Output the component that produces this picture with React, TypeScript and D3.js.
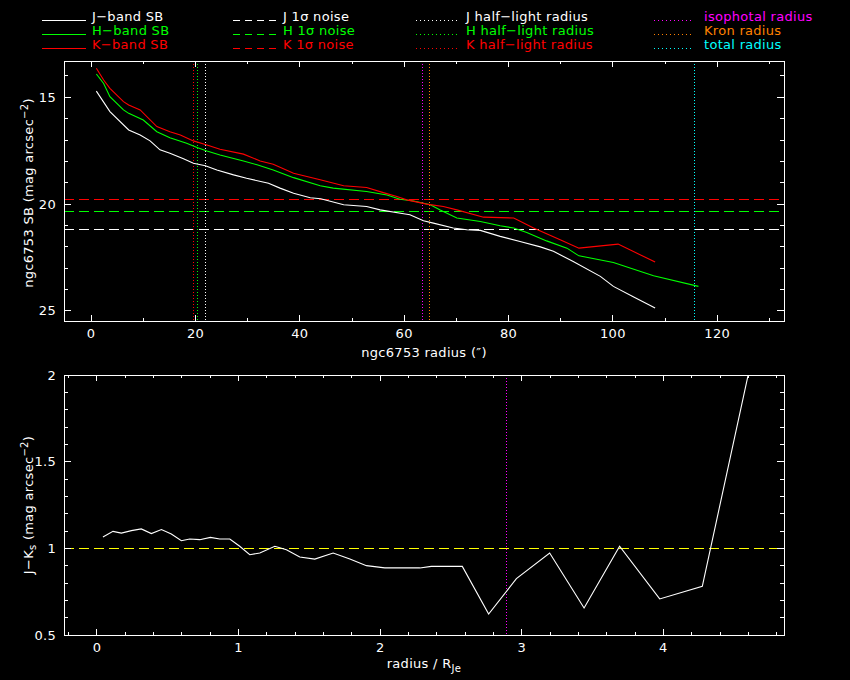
import * as d3 from 'd3';

// surface brightness profiles (radius in arcsec, mag arcsec^-2)
const jRadius = [1, 3.6, 7.2, 9.4, 11.3, 13.2, 15.1, 17.7, 19.6, 21.9, 24.1, 27.3, 29.8, 34, 36.2, 38.8, 42, 44, 48.4, 52.8, 55.4, 59.9, 61.1, 63.7, 65.6, 69.4, 72, 74.6, 78.4, 82.2, 86.1, 88.6, 92.4, 97.6, 100.1, 104, 108.1];
const jSB = [14.71, 15.67, 16.53, 16.76, 17.04, 17.46, 17.62, 17.88, 18.09, 18.2, 18.4, 18.63, 18.79, 19.02, 19.25, 19.49, 19.7, 19.75, 20.03, 20.11, 20.27, 20.45, 20.5, 20.78, 20.89, 21.12, 21.2, 21.23, 21.51, 21.75, 22.0, 22.21, 22.68, 23.38, 23.85, 24.35, 24.86];

const hRadius = [1, 2.4, 3.6, 6.2, 7.2, 10, 12.6, 15.1, 18.3, 20.3, 22.2, 24.7, 29.2, 31.8, 34.9, 38.8, 43.9, 46.4, 52.8, 56.7, 59.2, 61.8, 65, 66.9, 70.1, 74.6, 78.4, 81, 83.5, 87.3, 91.2, 93.5, 100.1, 107.8, 116.4];
const hSB = [13.91, 14.35, 14.97, 15.59, 15.75, 16.06, 16.61, 16.89, 17.15, 17.35, 17.51, 17.7, 17.98, 18.16, 18.4, 18.76, 19.14, 19.25, 19.41, 19.57, 19.77, 19.85, 20.03, 20.27, 20.65, 20.81, 21.01, 21.12, 21.33, 21.72, 22.06, 22.42, 22.73, 23.35, 23.85];

const kRadius = [1, 2.4, 3.6, 6.2, 7.2, 9.4, 12.6, 15.1, 17.1, 19.6, 22.2, 24.7, 29.2, 32.4, 34.9, 38.8, 43.9, 48.4, 52.8, 56, 58.6, 60.5, 64.3, 67.5, 70.1, 75.2, 81, 84.8, 89.9, 93.5, 96.3, 101, 108.1];
const kSB = [13.64, 14.19, 14.58, 15.2, 15.36, 15.59, 16.37, 16.61, 16.76, 17.04, 17.23, 17.43, 17.66, 17.98, 18.13, 18.55, 18.86, 19.14, 19.22, 19.46, 19.64, 19.8, 20.0, 20.11, 20.27, 20.61, 20.65, 21.12, 21.67, 22.06, 21.99, 21.87, 22.71];

// 1 sigma noise levels: J, H, K
const noiseLevels = [21.17, 20.33, 19.78];
// half-light radii: J, H, K
const halfLight = [21.9, 20.3, 19.7];
// isophotal, Kron, total radius
const otherRadii = [63.5, 64.85, 115.6];

// J-Ks colour profile vs radius / R_Je
const colorRadius = [0.042, 0.113, 0.172, 0.243, 0.313, 0.384, 0.455, 0.525, 0.596, 0.655, 0.726, 0.801, 0.867, 0.938, 1.008, 1.079, 1.15, 1.256, 1.338, 1.432, 1.538, 1.668, 1.786, 1.903, 2.033, 2.28, 2.361, 2.58, 2.766, 2.962, 3.197, 3.44, 3.691, 3.974, 4.275, 4.62];
const colorJK = [1.065, 1.098, 1.088, 1.102, 1.112, 1.085, 1.108, 1.083, 1.044, 1.054, 1.05, 1.063, 1.054, 1.054, 1.012, 0.963, 0.973, 1.012, 0.992, 0.95, 0.938, 0.973, 0.938, 0.9, 0.887, 0.887, 0.896, 0.896, 0.621, 0.825, 0.973, 0.656, 1.012, 0.708, 0.781, 2.08];
const colorRef = 1;
const isoRadiusNorm = 2.895;

const bandColors = ['#ffffff', '#00ff00', '#ff0000'];
const radiusColors = ['#ff00ff', '#ff8000', '#00ffff'];
const bandNames = ['J', 'H', 'K'];
const radiusNames = ['isophotal radius', 'Kron radius', 'total radius'];

const FONT = 'DejaVu Sans';
const FS = 13;

const topBox = { x0: 64, x1: 784, y0: 61, y1: 321 };
const botBox = { x0: 64, x1: 784, y0: 375, y1: 635 };

type Box = typeof topBox;

function Frame({ box, x, y, xMajor, xMinor, yMajor, yMinor }: {
  box: Box;
  x: d3.ScaleLinear<number, number>;
  y: d3.ScaleLinear<number, number>;
  xMajor: number[]; xMinor: number[]; yMajor: number[]; yMinor: number[];
}) {
  const ticks: JSX.Element[] = [];
  const addX = (v: number, len: number, k: string) => {
    const px = x(v);
    ticks.push(<line key={'xb' + k} x1={px} x2={px} y1={box.y1} y2={box.y1 - len} />);
    ticks.push(<line key={'xt' + k} x1={px} x2={px} y1={box.y0} y2={box.y0 + len} />);
  };
  const addY = (v: number, len: number, k: string) => {
    const py = y(v);
    ticks.push(<line key={'yl' + k} x1={box.x0} x2={box.x0 + len} y1={py} y2={py} />);
    ticks.push(<line key={'yr' + k} x1={box.x1} x2={box.x1 - len} y1={py} y2={py} />);
  };
  xMinor.forEach((v, i) => addX(v, 3, 'n' + i));
  xMajor.forEach((v, i) => addX(v, 6, 'm' + i));
  yMinor.forEach((v, i) => addY(v, 4, 'n' + i));
  yMajor.forEach((v, i) => addY(v, 7, 'm' + i));
  return (
    <g stroke="#fff" strokeWidth={1} shapeRendering="crispEdges" fill="none">
      <rect x={box.x0} y={box.y0} width={box.x1 - box.x0} height={box.y1 - box.y0} />
      {ticks}
    </g>
  );
}

export default function App() {
  const xTop = d3.scaleLinear().domain([-5.2, 132.8]).range([topBox.x0, topBox.x1]);
  const yTop = d3.scaleLinear().domain([13.3, 25.47]).range([topBox.y0, topBox.y1]);
  const xBot = d3.scaleLinear().domain([-0.233, 4.852]).range([botBox.x0, botBox.x1]);
  const yBot = d3.scaleLinear().domain([0.5, 2]).range([botBox.y1, botBox.y0]);

  const sbLine = d3.line<[number, number]>().x(d => xTop(d[0])).y(d => yTop(d[1]));
  const colLine = d3.line<[number, number]>().x(d => xBot(d[0])).y(d => yBot(d[1]));

  const profiles = [
    d3.zip(jRadius, jSB) as [number, number][],
    d3.zip(hRadius, hSB) as [number, number][],
    d3.zip(kRadius, kSB) as [number, number][],
  ];
  const colour = d3.zip(colorRadius, colorJK) as [number, number][];

  const txt = { fontFamily: FONT, fontSize: FS, fill: '#fff', letterSpacing: 0.3 } as const;

  const legendRows = [20, 34, 48];

  return (
    <svg width={850} height={680} style={{ position: 'absolute', left: 0, top: 0, background: '#000' }}>
      <rect width={850} height={680} fill="#000" />
      <defs>
        <clipPath id="clipTop"><rect x={topBox.x0} y={topBox.y0} width={topBox.x1 - topBox.x0} height={topBox.y1 - topBox.y0} /></clipPath>
        <clipPath id="clipBot"><rect x={botBox.x0} y={botBox.y0} width={botBox.x1 - botBox.x0} height={botBox.y1 - botBox.y0} /></clipPath>
      </defs>

      {/* legend */}
      {bandNames.map((b, i) => (
        <g key={'lg' + b} fontFamily={FONT} fontSize={FS} fill={bandColors[i]} letterSpacing={0.3}>
          <g stroke={bandColors[i]} shapeRendering="crispEdges">
            <line x1={42} x2={86} y1={legendRows[i]} y2={legendRows[i]} />
            <line x1={233} x2={277} y1={legendRows[i]} y2={legendRows[i]} strokeDasharray="7,5" />
            <line x1={416} x2={457} y1={legendRows[i]} y2={legendRows[i]} strokeDasharray="1,3" />
          </g>
          <text x={92} y={legendRows[i] + 1}>{b}−band SB</text>
          <text x={283} y={legendRows[i] + 1}>{b} 1σ noise</text>
          <text x={466} y={legendRows[i] + 1}>{b} half−light radius</text>
        </g>
      ))}
      {radiusNames.map((r, i) => (
        <g key={'lr' + i} fontFamily={FONT} fontSize={FS} fill={radiusColors[i]} letterSpacing={0.3}>
          <line x1={654} x2={694} y1={legendRows[i]} y2={legendRows[i]} stroke={radiusColors[i]} strokeDasharray="1,3" shapeRendering="crispEdges" />
          <text x={704} y={legendRows[i] + 1}>{r}</text>
        </g>
      ))}

      {/* top panel */}
      <g clipPath="url(#clipTop)" fill="none">
        {noiseLevels.map((v, i) => (
          <line key={'nz' + i} x1={topBox.x0} x2={topBox.x1} y1={yTop(v)} y2={yTop(v)} stroke={bandColors[i]} strokeDasharray="10,5" shapeRendering="crispEdges" />
        ))}
        {halfLight.map((v, i) => (
          <line key={'hl' + i} x1={xTop(v)} x2={xTop(v)} y1={topBox.y0} y2={topBox.y1} stroke={bandColors[i]} strokeDasharray="1,2" shapeRendering="crispEdges" />
        ))}
        {otherRadii.map((v, i) => (
          <line key={'or' + i} x1={xTop(v)} x2={xTop(v)} y1={topBox.y0} y2={topBox.y1} stroke={radiusColors[i]} strokeDasharray="1,2" shapeRendering="crispEdges" />
        ))}
        {profiles.map((p, i) => (
          <path key={'pr' + i} d={sbLine(p) ?? ''} stroke={bandColors[i]} strokeWidth={1.1} />
        ))}
      </g>
      <Frame box={topBox} x={xTop} y={yTop}
        xMajor={d3.range(0, 121, 20)} xMinor={d3.range(0, 131, 10)}
        yMajor={[15, 20, 25]} yMinor={d3.range(14, 26, 1)} />
      {d3.range(0, 121, 20).map(v => (
        <text key={'xt' + v} {...txt} x={xTop(v)} y={topBox.y1 + 17} textAnchor="middle">{v}</text>
      ))}
      {[15, 20, 25].map(v => (
        <text key={'yt' + v} {...txt} x={topBox.x0 - 8} y={yTop(v) + 4.5} textAnchor="end">{v}</text>
      ))}
      <text {...txt} x={424} y={357} textAnchor="middle">ngc6753 radius (″)</text>
      <text {...txt} transform={`translate(33,${(topBox.y0 + topBox.y1) / 2 + 2}) rotate(-90)`} textAnchor="middle">
        ngc6753 SB (mag arcsec<tspan dy={-5} fontSize={10}>−2</tspan><tspan dy={5}>)</tspan>
      </text>

      {/* bottom panel */}
      <g clipPath="url(#clipBot)" fill="none">
        <line x1={botBox.x0} x2={botBox.x1} y1={yBot(colorRef)} y2={yBot(colorRef)} stroke="#ffff00" strokeDasharray="10,5" shapeRendering="crispEdges" />
        <line x1={xBot(isoRadiusNorm)} x2={xBot(isoRadiusNorm)} y1={botBox.y0} y2={botBox.y1} stroke="#ff00ff" strokeDasharray="1,2" shapeRendering="crispEdges" />
        <path d={colLine(colour) ?? ''} stroke="#fff" strokeWidth={1.1} />
      </g>
      <Frame box={botBox} x={xBot} y={yBot}
        xMajor={d3.range(0, 5, 1)} xMinor={d3.range(-0.2, 4.85, 0.2)}
        yMajor={[0.5, 1, 1.5, 2]} yMinor={d3.range(0.6, 2, 0.1)} />
      {d3.range(0, 5, 1).map(v => (
        <text key={'bx' + v} {...txt} x={xBot(v)} y={botBox.y1 + 17} textAnchor="middle">{v}</text>
      ))}
      {[0.5, 1, 1.5, 2].map(v => (
        <text key={'by' + v} {...txt} x={botBox.x0 - 8} y={yBot(v) + 4.5} textAnchor="end">{v}</text>
      ))}
      <text {...txt} x={424} y={668} textAnchor="middle">
        radius / R<tspan dy={4} fontSize={10}>Je</tspan>
      </text>
      <text {...txt} transform={`translate(33,${(botBox.y0 + botBox.y1) / 2}) rotate(-90)`} textAnchor="middle">
        J−K<tspan dy={3} fontSize={10}>s</tspan><tspan dy={-3}> (mag arcsec</tspan><tspan dy={-5} fontSize={10}>−2</tspan><tspan dy={5}>)</tspan>
      </text>
    </svg>
  );
}
